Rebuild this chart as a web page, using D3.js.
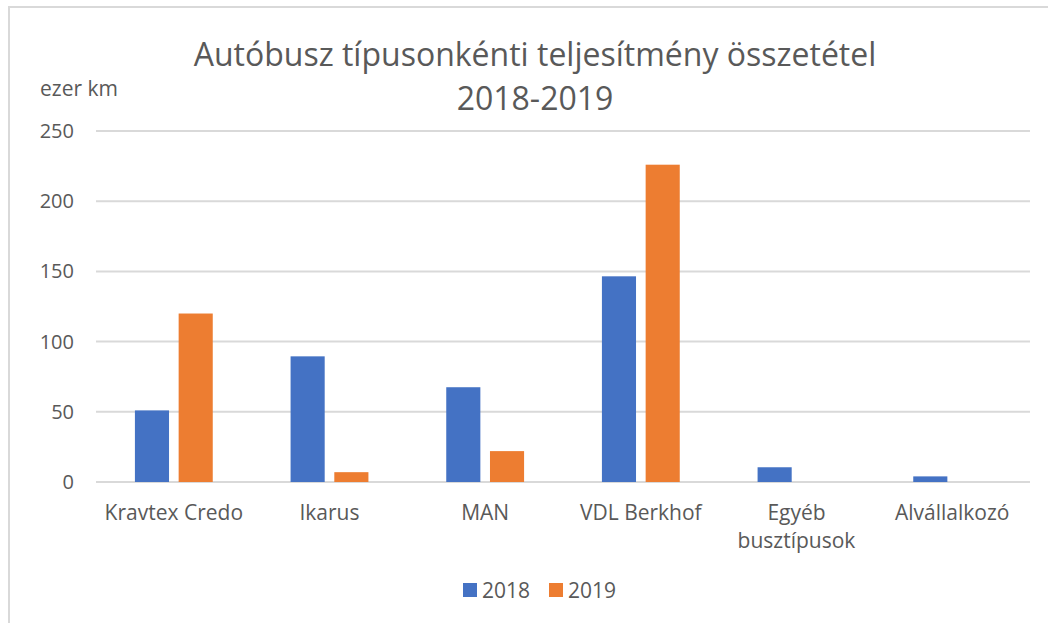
<!DOCTYPE html>
<html>
<head>
<meta charset="utf-8">
<script src="https://cdn.jsdelivr.net/npm/d3@7"></script>
<style>
  body { margin: 0; background: #fff; }
  text { font-family: "Open Sans", sans-serif; fill: #595959; }
</style>
</head>
<body>
<div id="chart"></div>
<script>
// Data
const categories = ["Kravtex Credo", "Ikarus", "MAN", "VDL Berkhof", "Egyéb busztípusok", "Alvállalkozó"];
const series = ["2018", "2019"];
const values2018 = [51, 89.5, 67.5, 146.5, 10.5, 4];
const values2019 = [120, 7, 22, 226, 0, 0];
const yTicks = [0, 50, 100, 150, 200, 250];
const colors = ["#4472C4", "#ED7D31"];

const W = 1048, H = 623;
const plot = {left: 96, right: 1030, top: 131, bottom: 482};

const svg = d3.select("#chart")
    .append("svg")
    .attr("width", W)
    .attr("height", H);

// Chart border (cut off on the right and bottom)
svg.append("rect")
    .attr("x", 9)
    .attr("y", 7)
    .attr("width", W + 20)
    .attr("height", H + 20)
    .attr("fill", "none")
    .attr("stroke", "#d9d9d9")
    .attr("stroke-width", 2);

// Scales
const x0 = d3.scaleBand()
    .domain(categories)
    .range([plot.left, plot.right])
    .paddingInner(0.5)
    .paddingOuter(0.25);

const x1 = d3.scaleBand()
    .domain(series)
    .range([0, x0.bandwidth()])
    .paddingInner(0.22);

const y = d3.scaleLinear()
    .domain([0, 250])
    .range([plot.bottom, plot.top]);

// Gridlines
svg.append("g")
    .selectAll("line")
    .data(yTicks)
    .join("line")
    .attr("x1", plot.left)
    .attr("x2", plot.right)
    .attr("y1", d => y(d))
    .attr("y2", d => y(d))
    .attr("stroke", "#d9d9d9")
    .attr("stroke-width", 2);

// Y axis labels
const yAxis = svg.append("g")
    .attr("transform", `translate(${plot.left},0)`)
    .call(d3.axisLeft(y).tickValues(yTicks).tickSize(0).tickPadding(22));
yAxis.select(".domain").remove();
yAxis.selectAll("text")
    .style("font-family", "'Open Sans', sans-serif")
    .style("font-size", "20px")
    .attr("fill", "#595959");

// Bars
const rows = categories.map((c, i) => ({cat: c, vals: [values2018[i], values2019[i]]}));
svg.append("g")
    .selectAll("g")
    .data(rows)
    .join("g")
    .attr("transform", d => `translate(${x0(d.cat)},0)`)
    .selectAll("rect")
    .data(d => d.vals.map((v, j) => ({key: series[j], v: v, j: j})).filter(d => d.v > 0))
    .join("rect")
    .attr("x", d => x1(d.key))
    .attr("width", x1.bandwidth())
    .attr("y", d => y(d.v))
    .attr("height", d => y(0) - y(d.v))
    .attr("fill", d => colors[d.j]);

// X axis labels (wrapped where needed)
const xLabels = svg.append("g")
    .selectAll("text")
    .data(categories)
    .join("text")
    .attr("x", d => x0(d) + x0.bandwidth() / 2)
    .attr("y", 520)
    .attr("text-anchor", "middle")
    .style("font-size", "21px");
xLabels.each(function(d) {
    const lines = d === "Egyéb busztípusok" ? ["Egyéb", "busztípusok"] : [d];
    d3.select(this).selectAll("tspan")
        .data(lines)
        .join("tspan")
        .attr("x", x0(d) + x0.bandwidth() / 2)
        .attr("dy", (l, i) => i === 0 ? 0 : 28)
        .text(l => l);
});

// Unit label
svg.append("text")
    .attr("x", 40)
    .attr("y", 96)
    .style("font-size", "21px")
    .text("ezer km");

// Title
svg.append("text")
    .attr("x", 535)
    .attr("y", 66)
    .attr("text-anchor", "middle")
    .style("font-size", "32px")
    .text("Autóbusz típusonkénti teljesítmény összetétel");
svg.append("text")
    .attr("x", 535)
    .attr("y", 110)
    .attr("text-anchor", "middle")
    .style("font-size", "32px")
    .text("2018-2019");

// Legend
const legend = svg.append("g")
    .attr("transform", "translate(463,0)");
const legendX = [0, 86];
series.forEach((s, i) => {
    legend.append("rect")
        .attr("x", legendX[i])
        .attr("y", 583)
        .attr("width", 14)
        .attr("height", 14)
        .attr("fill", colors[i]);
    legend.append("text")
        .attr("x", legendX[i] + 19)
        .attr("y", 598)
        .style("font-size", "21px")
        .text(s);
});
</script>
</body>
</html>
